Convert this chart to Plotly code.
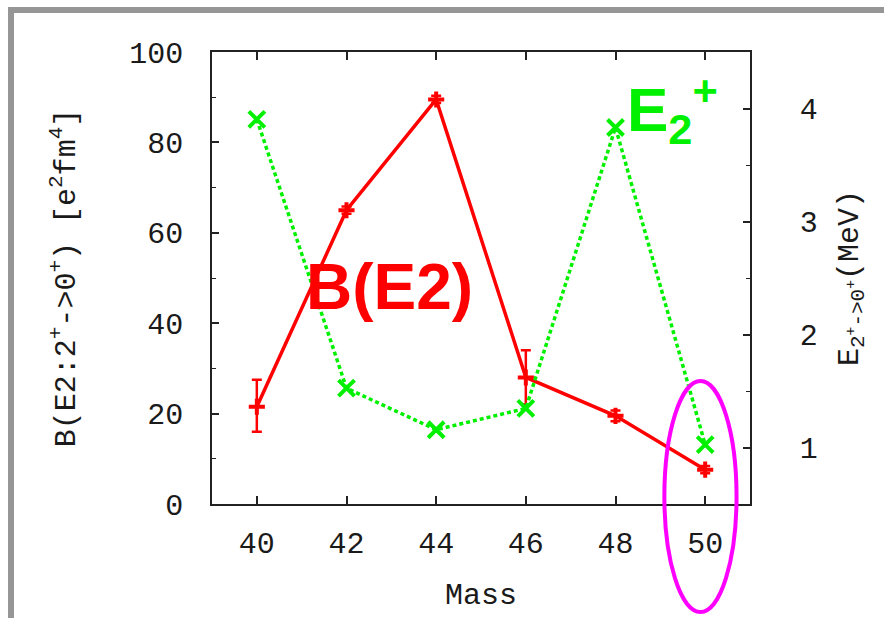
import plotly.graph_objects as go

# Calcium isotopes: B(E2; 2+ -> 0+) and first 2+ excitation energy
mass = [40, 42, 44, 46, 48, 50]
be2 = [21.5, 65.0, 89.5, 28.0, 19.5, 7.6]
be2_err_up = [6.0, 0.8, 0.8, 6.0, 1.2, 0.8]
be2_err_down = [5.5, 0.8, 0.8, 6.0, 1.2, 0.8]
e2_energy = [3.904, 1.525, 1.157, 1.346, 3.832, 1.026]

mass_ticks = [40, 42, 44, 46, 48, 50]
be2_ticks = [0, 20, 40, 60, 80, 100]
e2_ticks = [1, 2, 3, 4]
mass_range = [39, 51]
be2_range = [0, 100]
e2_range = [0.5, 4.5]

# highlighted region around A = 50 (in data units of mass / B(E2))
hl_mass = [49.09, 50.70]
hl_be2 = [-23.9, 27.2]

RED = "#ff0000"
GREEN = "#00f000"
MAGENTA = "#ff00ff"
FRAME = "#222222"
TEXT = "#1a1a1a"
BORDER = "#969696"
MONO = "Liberation Mono, Courier New, monospace"
SANS = "Liberation Sans, Arial, sans-serif"

W, H = 884, 618
M_L, M_R, M_T, M_B = 212, 134, 52, 114
PW, PH = W - M_L - M_R, H - M_T - M_B


def px_x(px):
    return (px - M_L) / PW


def px_y(py):
    return (H - M_B - py) / PH


fig = go.Figure()

fig.add_trace(go.Scatter(
    x=mass, y=be2, mode="lines+markers", name="B(E2)",
    line=dict(color=RED, width=3.5),
    marker=dict(symbol="cross-thin", size=11.5, line=dict(color=RED, width=4)),
    error_y=dict(type="data", symmetric=False, array=be2_err_up,
                 arrayminus=be2_err_down, color=RED, thickness=2.5, width=5),
    cliponaxis=False, showlegend=False,
))

fig.add_trace(go.Scatter(
    x=mass, y=e2_energy, mode="lines+markers", name="E2+", yaxis="y2",
    line=dict(color=GREEN, width=3.5, dash="4px,3px"),
    marker=dict(symbol="x-thin", size=16, line=dict(color=GREEN, width=4)),
    cliponaxis=False, showlegend=False,
))

# series labels
fig.add_annotation(x=42.95, y=48, xref="x", yref="y", text="<b>B(E2)</b>",
                   showarrow=False, font=dict(family=SANS, size=64, color=RED))
fig.add_annotation(x=48.22, y=3.99, xref="x", yref="y2", xanchor="left",
                   text="<b>E<sub>2</sub><sup>+</sup></b>",
                   showarrow=False, font=dict(family=SANS, size=62, color=GREEN))


def dom(v, rng):
    return (v - rng[0]) / (rng[1] - rng[0])


fig.add_shape(type="circle", xref="x domain", yref="y domain",
              x0=dom(hl_mass[0], mass_range), x1=dom(hl_mass[1], mass_range),
              y0=dom(hl_be2[0], be2_range), y1=dom(hl_be2[1], be2_range),
              line=dict(color=MAGENTA, width=4), layer="above")

# slide border (top and left bars)
fig.add_shape(type="line", xref="paper", yref="paper",
              x0=px_x(8), x1=px_x(W + 5), y0=px_y(10), y1=px_y(10),
              line=dict(color=BORDER, width=6))
fig.add_shape(type="line", xref="paper", yref="paper",
              x0=px_x(11), x1=px_x(11), y0=px_y(7), y1=px_y(H + 5),
              line=dict(color=BORDER, width=6))

fig.update_layout(
    width=W, height=H,
    margin=dict(l=M_L, r=M_R, t=M_T, b=M_B, autoexpand=False),
    paper_bgcolor="white", plot_bgcolor="white",
    font=dict(family=MONO, size=30, color=TEXT),
    xaxis=dict(
        range=mass_range, tickvals=mass_ticks, ticks="inside", ticklen=8,
        tickwidth=1.5, tickcolor=FRAME, showline=True, linecolor=FRAME,
        linewidth=1.5, mirror="ticks", showgrid=False, zeroline=False,
        ticklabelstandoff=11, tickfont=dict(family=MONO, size=30, color=TEXT),
        title=dict(text="Mass", font=dict(family=MONO, size=30, color=TEXT), standoff=22),
        automargin=False,
    ),
    yaxis=dict(
        range=be2_range, tickvals=be2_ticks, ticks="inside", ticklen=7,
        tickwidth=1.5, tickcolor=FRAME, showline=True, linecolor=FRAME,
        linewidth=1.5, showgrid=False, zeroline=False,
        minor=dict(ticks="inside", ticklen=4, dtick=10, tickcolor=FRAME, tickwidth=1.2),
        ticklabelstandoff=21, tickfont=dict(family=MONO, size=30, color=TEXT),
        title=dict(text="B(E2:2<sup>+</sup>->0<sup>+</sup>) [e<sup>2</sup>fm<sup>4</sup>]",
                   font=dict(family=MONO, size=30, color=TEXT), standoff=45),
        automargin=False,
    ),
    yaxis2=dict(
        range=e2_range, tickvals=e2_ticks, overlaying="y", side="right",
        ticks="inside", ticklen=7, tickwidth=1.5, tickcolor=FRAME,
        showline=True, linecolor=FRAME, linewidth=1.5, showgrid=False,
        zeroline=False,
        minor=dict(ticks="inside", ticklen=4, dtick=0.5, tickcolor=FRAME, tickwidth=1.2),
        ticklabelstandoff=42, tickfont=dict(family=MONO, size=30, color=TEXT),
        title=dict(text="E<sub>2<sup>+</sup>->0<sup>+</sup></sub>(MeV)",
                   font=dict(family=MONO, size=30, color=TEXT), standoff=20),
        automargin=False,
    ),
)

fig.write_html("out.html")
